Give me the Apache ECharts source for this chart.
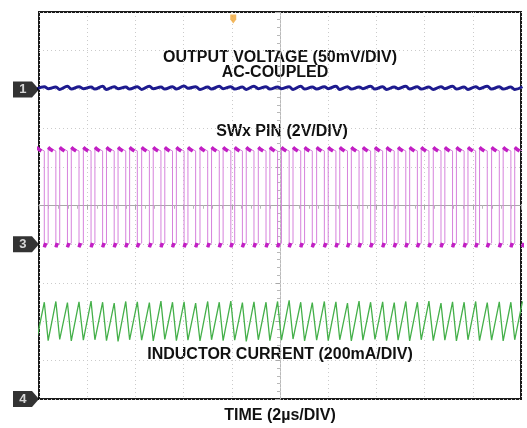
<!DOCTYPE html>
<html><head><meta charset="utf-8">
<script src="https://cdn.jsdelivr.net/npm/echarts@6/dist/echarts.min.js"></script>
<style>html,body{margin:0;padding:0;background:#fff}#c{width:527px;height:428px}</style>
</head><body><div id="c"></div>
<script>
// ---- data (units: screen divisions) ----
const swRise = [-0.05,0.19,0.43,0.67,0.92,1.16,1.40,1.64,1.88,2.13,2.37,2.61,2.85,3.09,3.34,3.58,3.82,4.06,4.30,4.55,4.79,5.03,5.27,5.51,5.76,6.00,6.24,6.48,6.72,6.97,7.21,7.45,7.69,7.93,8.18,8.42,8.66,8.90,9.14,9.39,9.63,9.87];
const swFall = [0.11,0.35,0.59,0.83,1.08,1.32,1.56,1.80,2.04,2.29,2.53,2.77,3.01,3.25,3.50,3.74,3.98,4.22,4.46,4.71,4.95,5.19,5.43,5.67,5.92,6.16,6.40,6.64,6.88,7.13,7.37,7.61,7.85,8.09,8.34,8.58,8.82,9.06,9.30,9.55,9.79,10.03];
const swHigh = 6.41, swLow = 4.03, swOver = 6.50, swUnder = 3.92;
const ilPeak = [2.50,2.52,2.49,2.51,2.53,2.50,2.48,2.52,2.51,2.49,2.53,2.50,2.51,2.48,2.52,2.50,2.53,2.49,2.51,2.50,2.52,2.55,2.50,2.49,2.52,2.51,2.48,2.53,2.50,2.51,2.49,2.52,2.50,2.53,2.48,2.51,2.50,2.52,2.49,2.51,2.50,2.52];
const ilValley = [1.53,1.51,1.54,1.50,1.52,1.53,1.51,1.49,1.53,1.52,1.50,1.54,1.51,1.52,1.50,1.53,1.51,1.52,1.49,1.53,1.51,1.52,1.55,1.50,1.52,1.51,1.53,1.50,1.52,1.54,1.51,1.52,1.50,1.53,1.51,1.52,1.50,1.53,1.51,1.52,1.50,1.53];
const voutA = [8.01,8.02,8.00,8.01,8.02,8.01,8.00,8.02,8.01,8.00,8.02,8.01,8.01,8.03,8.00,8.01,8.02,8.01,8.00,8.02,8.01,8.02,8.00,8.01,8.01,8.02,8.00,8.01,8.02,8.01,8.00,8.02,8.01,8.01,8.00,8.02,8.01,8.00,8.02,8.01,8.01,8.00];
const voutB = [8.07,8.06,8.08,8.07,8.06,8.08,8.07,8.06,8.07,8.08,8.06,8.07,8.09,8.07,8.06,8.08,8.07,8.06,8.08,8.07,8.06,8.07,8.08,8.06,8.07,8.08,8.07,8.06,8.08,8.07,8.06,8.08,8.07,8.06,8.07,8.08,8.06,8.07,8.08,8.07,8.06,8.07];
const channelMarks = [{name:'1', level:8.0},{name:'3', level:4.0},{name:'4', level:0}];
const triggerPos = [4.03, 9.82];
const labels = {
  out1:'OUTPUT VOLTAGE (50mV/DIV)', out2:'AC-COUPLED', sw:'SWx PIN (2V/DIV)',
  il:'INDUCTOR CURRENT (200mA/DIV)', time:'TIME (2µs/DIV)'
};

// ---- build series data ----
const swLine = [], swBlob = [], ilLine = [], voLine = [];
for (let i = 0; i < swRise.length; i++) {
  const r = swRise[i], f = swFall[i];
  swLine.push([r, swLow], [r, swOver], [f, swHigh], [f, swUnder]);
  if (i + 1 < swRise.length) swLine.push([swRise[i+1], swLow]);
  swBlob.push([r, swOver], [r + 0.06, swHigh + 0.03], [r + 0.1, swHigh], null);
  swBlob.push([f, swUnder], [f + 0.03, swLow], null);
  ilLine.push([r, ilValley[i]], [f, ilPeak[i]]);
  voLine.push([r, voutA[i]], [f, voutB[i]]);
}

const chart = echarts.init(document.getElementById('c'), null, {renderer:'canvas'});
const font = '"Liberation Sans", Arial, sans-serif';
const textStyle = (x, y, t) => ({type:'text', x, y, style:{text:t, font:'bold 16px ' + font, fill:'#111', textAlign:'center', textVerticalAlign:'middle'}});
const marker = 'path://M0,0 L19,0 L26,8 L19,16 L0,16 Z';
const hidden = {axisLabel:{show:false}, splitLine:{show:false}};
const centerX = (pos, inside) => Object.assign({type:'value', gridIndex:1, min:-5, max:5, interval:1, position:pos,
  axisLine:{show:true, onZero:true, lineStyle:{color:'#a8a8a8', width:1}},
  axisTick:{show:true, inside, length:4, lineStyle:{color:'#a8a8a8'}},
  minorTick:{show:true, splitNumber:5, length:3, lineStyle:{color:'#b8b8b8'}}}, hidden);
const centerY = (pos, inside) => Object.assign({type:'value', gridIndex:1, min:-5, max:5, interval:1, position:pos,
  axisLine:{show:true, onZero:true, lineStyle:{color:'#b8b8b8', width:1, type:[2,2]}},
  axisTick:{show:true, inside, length:4, lineStyle:{color:'#a8a8a8'}},
  minorTick:{show:true, splitNumber:5, length:3, lineStyle:{color:'#b8b8b8'}}}, hidden);

chart.setOption({
  animation:false,
  backgroundColor:'#fff',
  grid:[
    {left:39, right:6, top:12, bottom:29, show:true, borderColor:'#1a1a1a', borderWidth:2, backgroundColor:'transparent'},
    {left:39, right:6, top:12, bottom:29, show:false}
  ],
  xAxis:[
    {type:'value', min:0, max:10, interval:1, axisLabel:{show:false}, axisTick:{show:false}, axisLine:{show:false},
      splitLine:{show:true, lineStyle:{color:'#cbcbcb', type:[1,3], width:1}}},
    centerX('bottom', false), centerX('top', true)
  ],
  yAxis:[
    {type:'value', min:0, max:10, interval:1, axisLabel:{show:false}, axisTick:{show:false}, axisLine:{show:false},
      splitLine:{show:true, lineStyle:{color:'#cbcbcb', type:[1,3], width:1}}},
    centerY('left', false), centerY('right', true)
  ],
  series:[
    {name:'SW', type:'line', data:swLine, showSymbol:false, lineStyle:{color:'#d682dc', width:1}, z:3},
    {name:'SWblob', type:'line', data:swBlob, showSymbol:false, connectNulls:false, lineStyle:{color:'#c21fc4', width:3.5}, z:4},
    {name:'IL', type:'line', data:ilLine, showSymbol:false, lineStyle:{color:'#45b04a', width:1.3}, z:3},
    {name:'VOUT', type:'line', data:voLine, showSymbol:false, smooth:0.4, lineStyle:{color:'#1d1a8e', width:3}, z:3},
    {name:'trig', type:'scatter', data:[triggerPos], symbol:'path://M0,0 L6,0 L6,5 L3,9 L0,5 Z', symbolSize:[6,9], itemStyle:{color:'#f0a535'}, clip:false, z:5},
    {name:'ch', type:'scatter', clip:false, z:6, symbol:marker, symbolSize:[26,16],
      data:channelMarks.map(c => ({value:[-0.27, c.level], name:c.name})),
      itemStyle:{color:'#000'},
      label:{show:true, formatter:p => p.name, position:'inside', offset:[-3,0], color:'#fff', fontFamily:font, fontWeight:'bold', fontSize:13}}
  ],
  graphic:[
    textStyle(280, 58, labels.out1),
    textStyle(275, 73, labels.out2),
    textStyle(282, 132, labels.sw),
    textStyle(280, 355, labels.il),
    textStyle(280, 416, labels.time)
  ]
});
</script></body></html>
